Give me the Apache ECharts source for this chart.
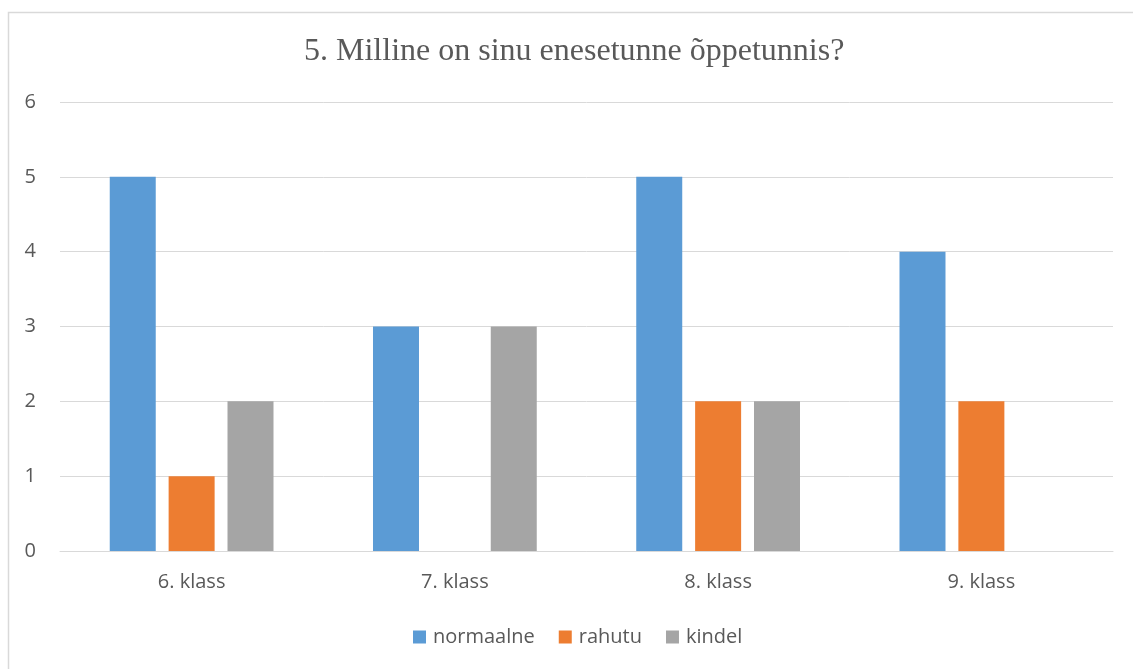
<!DOCTYPE html>
<html>
<head>
<meta charset="utf-8">
<script src="https://cdn.jsdelivr.net/npm/echarts@6/dist/echarts.min.js"></script>
<style>
  html, body { margin: 0; padding: 0; background: #fff; }
  #chart { width: 1133px; height: 669px; }
</style>
</head>
<body>
<div id="chart"></div>
<script>
// Survey answers per grade
const titleText = '5. Milline on sinu enesetunne õppetunnis?';
const categories = ['6. klass', '7. klass', '8. klass', '9. klass'];
const seriesNames = ['normaalne', 'rahutu', 'kindel'];
const normaalne = [5, 3, 5, 4];
const rahutu = [1, 0, 2, 2];
const kindel = [2, 3, 2, 0];
const colors = ['#5B9BD5', '#ED7D31', '#A5A5A5'];

const sansFont = '"Open Sans", "Noto Sans", sans-serif';
const chart = echarts.init(document.getElementById('chart'), null, { renderer: 'canvas' });

chart.setOption({
  animation: false,
  color: colors,
  title: {
    text: titleText,
    left: 299,
    top: 31,
    textStyle: {
      fontFamily: '"Liberation Serif", "Times New Roman", serif',
      fontSize: 32,
      fontWeight: 'normal',
      color: '#595959'
    }
  },
  graphic: [{
    type: 'rect',
    shape: { x: 8.5, y: 12.5, width: 1200, height: 700 },
    style: { fill: 'none', stroke: '#D9D9D9', lineWidth: 1.5 },
    silent: true
  }],
  legend: {
    data: seriesNames,
    top: 622,
    left: 408,
    itemWidth: 13,
    itemHeight: 13,
    itemGap: 24,
    icon: 'rect',
    textStyle: { fontFamily: sansFont, fontSize: 20, color: '#595959', padding: [0, 0, 0, 2] }
  },
  grid: { left: 60, right: 20, top: 102, bottom: 118, containLabel: false },
  xAxis: {
    type: 'category',
    data: categories,
    axisLine: { lineStyle: { color: '#D9D9D9', width: 1 } },
    axisTick: { show: false },
    axisLabel: { margin: 21, fontFamily: sansFont, fontSize: 20, color: '#595959' }
  },
  yAxis: {
    type: 'value',
    min: 0,
    max: 6,
    interval: 1,
    axisLine: { show: false },
    axisTick: { show: false },
    splitLine: { lineStyle: { color: '#D9D9D9', width: 1 } },
    axisLabel: { margin: 24, fontFamily: sansFont, fontSize: 20, color: '#595959' }
  },
  series: [
    { name: seriesNames[0], type: 'bar', data: normaalne, barWidth: 46, barGap: '28%' },
    { name: seriesNames[1], type: 'bar', data: rahutu, barWidth: 46, barGap: '28%' },
    { name: seriesNames[2], type: 'bar', data: kindel, barWidth: 46, barGap: '28%' }
  ]
});
</script>
</body>
</html>
